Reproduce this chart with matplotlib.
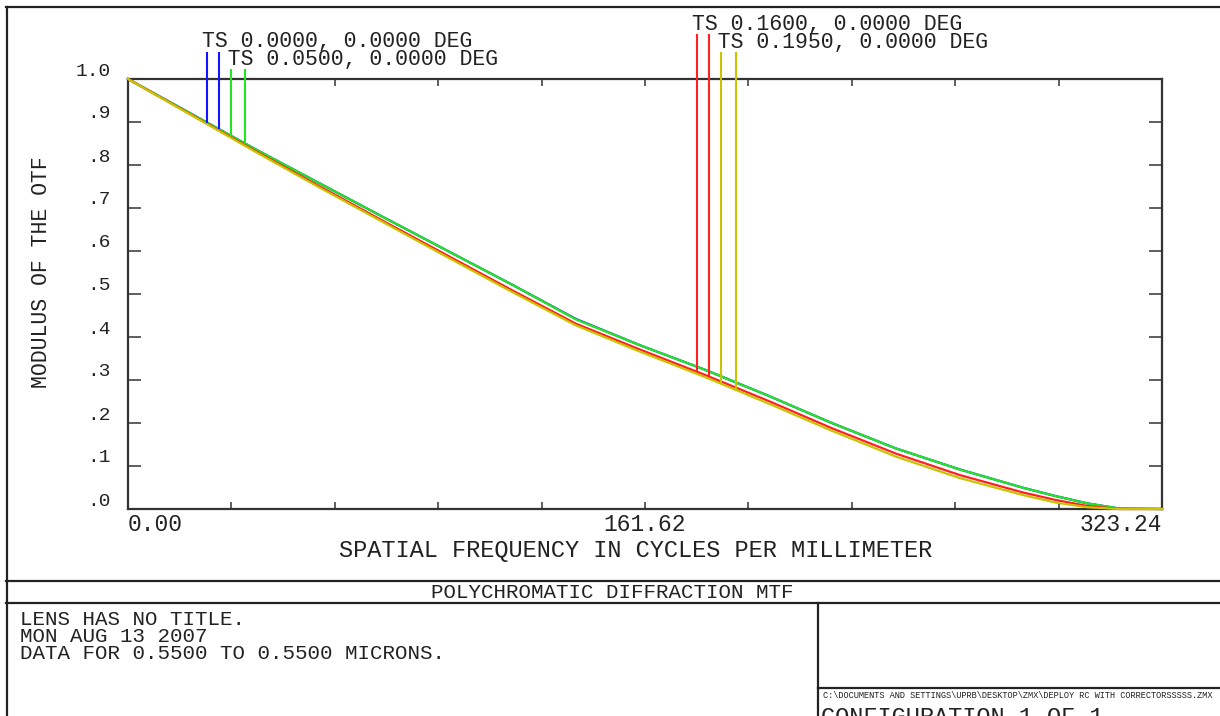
import numpy as np
import matplotlib.pyplot as plt
from matplotlib.lines import Line2D
from matplotlib import transforms

plt.rcParams['font.family'] = ['Liberation Mono', 'DejaVu Sans Mono']

# spatial frequency (cycles/mm) and MTF of each field
freq = [0, 20, 40, 60, 80, 100, 120, 140, 160, 180, 200, 220, 240, 260, 280, 290, 300, 310, 323.24]
mtf_f1 = [1.000, 0.918, 0.836, 0.757, 0.678, 0.600, 0.522, 0.442, 0.381, 0.325, 0.264, 0.200, 0.141, 0.092, 0.049, 0.030, 0.013, 0.001, 0.0]
mtf_f2 = [1.000, 0.918, 0.836, 0.757, 0.678, 0.600, 0.522, 0.441, 0.381, 0.325, 0.264, 0.200, 0.141, 0.092, 0.049, 0.030, 0.013, 0.001, 0.0]
mtf_f3 = [1.000, 0.916, 0.832, 0.750, 0.669, 0.589, 0.509, 0.431, 0.371, 0.313, 0.252, 0.188, 0.129, 0.079, 0.038, 0.021, 0.007, 0.0, 0.0]
mtf_f4 = [1.000, 0.915, 0.830, 0.747, 0.666, 0.585, 0.505, 0.427, 0.366, 0.308, 0.246, 0.182, 0.122, 0.072, 0.032, 0.015, 0.004, 0.0, 0.0]

field_labels = ["TS 0.0000, 0.0000 DEG", "TS 0.0500, 0.0000 DEG",
                "TS 0.1600, 0.0000 DEG", "TS 0.1950, 0.0000 DEG"]
colors = ['#1414ff', '#22e622', '#ff2020', '#c8c400']
# legend marker lines (T and S) for each field
marker_freq = [[24.7, 28.4], [32.2, 36.6], [177.9, 181.6], [185.4, 190.1]]
marker_top = [1.063, 1.023, 1.105, 1.063]

x_ticks = np.linspace(0, 323.24, 11)
x_ticklabels = ['0.00', '', '', '', '', '161.62', '', '', '', '', '323.24']
y_ticks = np.linspace(0, 1.0, 11)
y_ticklabels = ['.0', '.1', '.2', '.3', '.4', '.5', '.6', '.7', '.8', '.9', '1.0']

lens_lines = ["LENS HAS NO TITLE.", "MON AUG 13 2007", "DATA FOR 0.5500 TO 0.5500 MICRONS."]
file_path = "C:\\DOCUMENTS AND SETTINGS\\UPRB\\DESKTOP\\ZMX\\DEPLOY RC WITH CORRECTORSSSSS.ZMX"

W, H = 1220, 716
ink = '#222222'


def fx(px):
    return px / W


def fy(py):
    return 1 - py / H


fig = plt.figure(figsize=(W / 100, H / 100), dpi=100)
ax = fig.add_axes([fx(128), fy(509), fx(1162) - fx(128), fy(79) - fy(509)])

curves = [mtf_f1, mtf_f2, mtf_f3, mtf_f4]
for vals, col in zip(curves, colors):
    ax.plot(freq, vals, color=col, lw=1.6, zorder=3, clip_on=False)

# marker lines dropping from the legend to the curves
for mf, top, vals, col in zip(marker_freq, marker_top, curves, colors):
    bottoms = np.interp(mf, freq, vals)
    ax.vlines(mf, bottoms, top, color=col, lw=1.5, clip_on=False, zorder=3)

ax.set_xlim(0, 323.24)
ax.set_ylim(0, 1.0)

for s in ax.spines.values():
    s.set_color('#333333')
    s.set_linewidth(1.6)

ax.set_xticks(x_ticks, labels=x_ticklabels)
ax.tick_params(axis='x', direction='in', length=5, width=1.1, color='#333333',
               top=True, pad=3, labelsize=16.5, labelcolor=ink)
labs = ax.get_xticklabels()
labs[0].set_ha('left')
labs[-1].set_ha('right')

ax.set_yticks(y_ticks, labels=[''] * len(y_ticks))
ax.tick_params(axis='y', direction='in', length=9.5, width=1.1, color='#333333',
               right=True)
ytr = transforms.offset_copy(ax.get_yaxis_transform(), fig=fig, x=-17, y=8, units='dots')
for yv, lab in zip(y_ticks, y_ticklabels):
    ax.text(0, yv, lab, transform=ytr, ha='right', va='center', fontsize=14, color=ink)

fig.text(fx(636), fy(551), "SPATIAL FREQUENCY IN CYCLES PER MILLIMETER",
         ha='center', va='center', fontsize=17, color=ink)
fig.text(fx(42), fy(272), "MODULUS OF THE OTF", rotation=90,
         ha='center', va='center', fontsize=15.5, color=ink)

# legend texts: two fields per block, second row shifted right by two columns
legend_pos = [(202, 31), (692, 14)]
for k, (px, py) in enumerate(legend_pos):
    block = field_labels[2 * k] + "\n  " + field_labels[2 * k + 1]
    fig.text(fx(px), fy(py), block, ha='left', va='top', fontsize=15.5,
             linespacing=0.8, color=ink)

# frame and bottom panel
frame_lw = 1.6
fig.add_artist(Line2D([fx(6.5), fx(6.5)], [fy(7), fy(716)], color=ink, lw=frame_lw))
fig.add_artist(Line2D([fx(6), fx(1220)], [fy(7), fy(7)], color=ink, lw=frame_lw))
fig.add_artist(Line2D([fx(6), fx(1220)], [fy(581), fy(581)], color=ink, lw=frame_lw))
fig.add_artist(Line2D([fx(6), fx(1220)], [fy(603), fy(603)], color=ink, lw=frame_lw))
fig.add_artist(Line2D([fx(818), fx(818)], [fy(603), fy(716)], color=ink, lw=frame_lw))
fig.add_artist(Line2D([fx(818), fx(1220)], [fy(688), fy(688)], color=ink, lw=frame_lw))

fig.text(fx(612), fy(593), "POLYCHROMATIC DIFFRACTION MTF", ha='center', va='center',
         fontsize=15, color=ink)
fig.text(fx(20), fy(610), "\n".join(lens_lines), ha='left', va='top', fontsize=15,
         linespacing=0.86, color=ink)

fig.text(fx(823), fy(696), file_path, ha='left', va='center', fontsize=6.2,
         family=['Liberation Sans Narrow', 'DejaVu Sans Condensed', 'Liberation Mono'],
         color=ink)
fig.text(fx(821), fy(706), "CONFIGURATION 1 OF 1", ha='left', va='top', fontsize=17, color=ink)

fig.savefig('out.png', dpi=100)
